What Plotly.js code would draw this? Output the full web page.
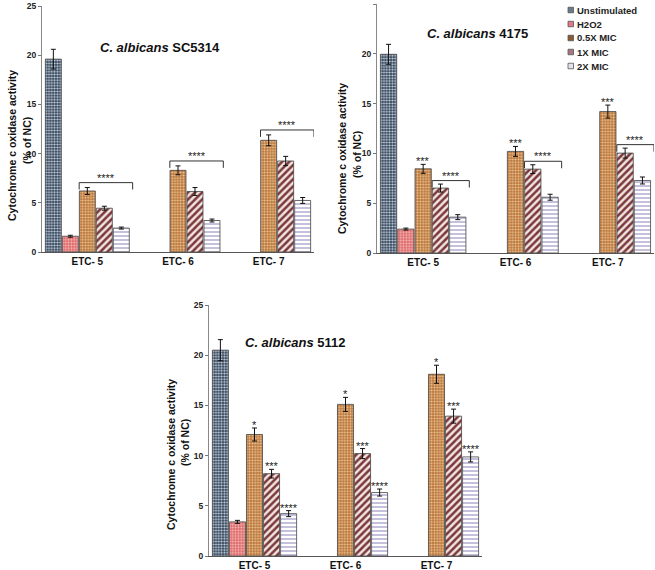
<!DOCTYPE html>
<html><head><meta charset="utf-8">
<script src="https://cdn.plot.ly/plotly-3.0.1.min.js"></script>
<style>html,body{margin:0;padding:0;background:#fff}#chart{width:655px;height:570px}</style>
</head><body><div id="chart"></div>
<script>
// ---------- data ----------
const categories = ['ETC- 5', 'ETC- 6', 'ETC- 7'];
const seriesNames = ['Unstimulated', 'H2O2', '0.5X MIC', '1X MIC', '2X MIC'];
const strainTitles = ['<i>C. albicans</i> SC5314', '<i>C. albicans</i> 4175', '<i>C. albicans</i> 5112'];
const yTitleLine1 = 'Cytochrome c oxidase activity';
const yTitleLine2 = '(% of NC)';
const yTickVals = [0, 5, 10, 15, 20, 25];

// C. albicans SC5314
const sc5314Unstim = [19.6, null, null];
const sc5314UnstimErr = [1.0, null, null];
const sc5314H2O2 = [1.6, null, null];
const sc5314H2O2Err = [0.1, null, null];
const sc5314Half = [6.2, 8.3, 11.35];
const sc5314HalfErr = [0.35, 0.45, 0.55];
const sc5314One = [4.45, 6.15, 9.25];
const sc5314OneErr = [0.2, 0.4, 0.47];
const sc5314Two = [2.43, 3.2, 5.24];
const sc5314TwoErr = [0.1, 0.15, 0.3];

// C. albicans 4175
const c4175Unstim = [19.95, null, null];
const c4175UnstimErr = [1.0, null, null];
const c4175H2O2 = [2.4, null, null];
const c4175H2O2Err = [0.1, null, null];
const c4175Half = [8.45, 10.2, 14.2];
const c4175HalfErr = [0.45, 0.5, 0.65];
const c4175One = [6.52, 8.42, 10.03];
const c4175OneErr = [0.4, 0.44, 0.5];
const c4175Two = [3.6, 5.6, 7.28];
const c4175TwoErr = [0.25, 0.3, 0.35];

// C. albicans 5112
const c5112Unstim = [20.5, null, null];
const c5112UnstimErr = [1.05, null, null];
const c5112H2O2 = [3.4, null, null];
const c5112H2O2Err = [0.15, null, null];
const c5112Half = [12.1, 15.1, 18.1];
const c5112HalfErr = [0.65, 0.7, 0.9];
const c5112One = [8.2, 10.2, 13.93];
const c5112OneErr = [0.43, 0.5, 0.7];
const c5112Two = [4.22, 6.32, 9.87];
const c5112TwoErr = [0.3, 0.35, 0.5];

// significance marks
const c4175HalfSig = ['***', '***', '***'];
const c5112HalfSig = ['*', '*', '*'];
const c5112OneSig = ['***', '***', '***'];
const c5112TwoSig = ['****', '****', '****'];
const sc5314BracketSig = ['****', '****', '****'];   // spans 0.5X..2X MIC
const c4175BracketSig = ['****', '****', '****'];    // spans 1X..2X MIC

const panels = [
  {vals: [sc5314Unstim, sc5314H2O2, sc5314Half, sc5314One, sc5314Two],
   errs: [sc5314UnstimErr, sc5314H2O2Err, sc5314HalfErr, sc5314OneErr, sc5314TwoErr]},
  {vals: [c4175Unstim, c4175H2O2, c4175Half, c4175One, c4175Two],
   errs: [c4175UnstimErr, c4175H2O2Err, c4175HalfErr, c4175OneErr, c4175TwoErr]},
  {vals: [c5112Unstim, c5112H2O2, c5112Half, c5112One, c5112Two],
   errs: [c5112UnstimErr, c5112H2O2Err, c5112HalfErr, c5112OneErr, c5112TwoErr]}
];

// ---------- styles / layout ----------
const W = 655, H = 570;
const px = p => p / W;
const py = p => 1 - p / H;
const boxes = [ // [left, right, bottom, top] in pixels
  [42, 314, 252, 6],
  [377, 654, 253, 4],
  [209, 482, 556, 305]
];
const seriesStyles = [
  {bg: '#34445a', fg: '#d3dfea', shape: '.', size: 2.8, solidity: 0.42, legend: '#6b7a8c'},
  {bg: '#e06a6a', fg: '#f6c4c4', shape: '.', size: 2.8, solidity: 0.35, legend: '#e07a86'},
  {bg: '#b8743a', fg: '#f2cc9c', shape: '.', size: 2.8, solidity: 0.4, legend: '#8b5a2e'},
  {bg: '#f3e4e4', fg: '#7b3838', shape: '/', size: 5, solidity: 0.5, legend: '#a87882'},
  {bg: '#ffffff', fg: '#8c82b8', shape: '-', size: 4, solidity: 0.25, legend: '#e4e2ee'}
];
const bargap = 0.063, bargroupgap = 0.06;
const slot = (1 - bargap) / seriesNames.length;
const barX = (ci, si) => ci + (si - (seriesNames.length - 1) / 2) * slot;

const traces = [];
panels.forEach((p, pi) => {
  const sfx = pi === 0 ? '' : String(pi + 1);
  p.vals.forEach((v, si) => {
    const st = seriesStyles[si];
    traces.push({
      type: 'bar', name: seriesNames[si], legendgroup: seriesNames[si],
      showlegend: false,
      x: categories, y: v,
      xaxis: 'x' + sfx, yaxis: 'y' + sfx,
      marker: {
        color: st.bg,
        line: {color: '#444', width: 0.8},
        pattern: {shape: st.shape, fgcolor: st.fg, bgcolor: st.bg, size: st.size, solidity: st.solidity}
      },
      error_y: {type: 'data', array: p.errs[si], visible: true, color: '#111', thickness: 1, width: 2.5},
      hoverinfo: 'x+y'
    });
  });
});

const layout = {
  width: W, height: H,
  margin: {l: 0, r: 0, t: 0, b: 0},
  paper_bgcolor: '#fff', plot_bgcolor: '#fff',
  barmode: 'group', bargap: bargap, bargroupgap: bargroupgap,
  font: {family: 'Liberation Sans, Arial, sans-serif', color: '#111'},
  showlegend: false,
  annotations: [], shapes: []
};

boxes.forEach((b, i) => {
  const sfx = i === 0 ? '' : String(i + 1);
  layout['xaxis' + sfx] = {
    domain: [px(b[0]), px(b[1])], anchor: 'y' + sfx,
    type: 'category', categoryorder: 'array', categoryarray: categories,
    range: [-0.5, 2.5], showline: true, linecolor: '#555', linewidth: 1,
    ticks: '', showgrid: false, zeroline: false,
    tickfont: {size: 10, weight: 'bold', color: '#111'}, fixedrange: true
  };
  layout['yaxis' + sfx] = {
    domain: [py(b[2]), py(b[3])], anchor: 'x' + sfx,
    range: [0, 25], tickvals: yTickVals, ticks: 'outside', ticklen: 3,
    tickcolor: '#777', showline: true, linecolor: '#888', linewidth: 1,
    showgrid: false, zeroline: false,
    tickfont: {size: 8.5, weight: 'bold', color: '#222'}, fixedrange: true
  };
});

// legend (drawn as key squares + labels in the top-right panel)
seriesNames.forEach((n, si) => {
  const cy = 10 + si * 14;
  layout.shapes.push({
    xref: 'paper', yref: 'paper', type: 'rect',
    x0: px(568), x1: px(573.5), y0: py(cy + 2.75), y1: py(cy - 2.75),
    fillcolor: seriesStyles[si].legend, line: {color: '#555', width: 0.8}
  });
  layout.annotations.push({
    xref: 'paper', yref: 'paper', x: px(575), y: py(cy),
    xanchor: 'left', yanchor: 'middle', showarrow: false,
    text: '<b>' + n + '</b>', font: {size: 9.5, color: '#222'}
  });
});

// strain titles
const titlePos = [[160, 47], [477, 34], [295, 342]];
titlePos.forEach((t, i) => {
  layout.annotations.push({
    xref: 'paper', yref: 'paper', x: px(t[0]), y: py(t[1]),
    xanchor: 'center', yanchor: 'middle', showarrow: false,
    text: '<b>' + strainTitles[i] + '</b>', font: {size: 13, color: '#111'}
  });
});

// y axis titles (two lines each)
const yTitlePos = [[12, 27, 146, 141], [342, 357, 159, 155], [171, 185, 455, 443]];
yTitlePos.forEach(t => {
  layout.annotations.push({
    xref: 'paper', yref: 'paper', x: px(t[0]), y: py(t[2]), textangle: -90,
    xanchor: 'center', yanchor: 'middle', showarrow: false,
    text: '<b>' + yTitleLine1 + '</b>', font: {size: 10.5, color: '#111'}
  });
  layout.annotations.push({
    xref: 'paper', yref: 'paper', x: px(t[1]), y: py(t[3]), textangle: -90,
    xanchor: 'center', yanchor: 'middle', showarrow: false,
    text: '<b>' + yTitleLine2 + '</b>', font: {size: 10.5, color: '#111'}
  });
});

// stars above individual bars
function addBarStars(pi, si, marks) {
  const sfx = pi === 0 ? '' : String(pi + 1);
  const v = panels[pi].vals[si], e = panels[pi].errs[si];
  marks.forEach((m, ci) => {
    if (v[ci] == null) return;
    layout.annotations.push({
      xref: 'x' + sfx, yref: 'y' + sfx, x: barX(ci, si), y: v[ci] + e[ci],
      xanchor: 'center', yanchor: 'bottom', yshift: -5, showarrow: false,
      text: m, font: {size: 11, color: '#222'}
    });
  });
}
addBarStars(1, 2, c4175HalfSig);
addBarStars(2, 2, c5112HalfSig);
addBarStars(2, 3, c5112OneSig);
addBarStars(2, 4, c5112TwoSig);

// brackets spanning several bars
function addBrackets(pi, sFrom, sTo, marks, gapAbove) {
  const sfx = pi === 0 ? '' : String(pi + 1);
  marks.forEach((m, ci) => {
    let top = 0;
    for (let s = sFrom; s <= sTo; s++) {
      top = Math.max(top, panels[pi].vals[s][ci] + panels[pi].errs[s][ci]);
    }
    const yb = top + gapAbove, drop = 0.7;
    const x0 = barX(ci, sFrom) - 0.09, x1 = barX(ci, sTo) + 0.125;
    const ln = {color: '#333', width: 1};
    const ax = {xref: 'x' + sfx, yref: 'y' + sfx, type: 'line', line: ln};
    layout.shapes.push(Object.assign({x0: x0, x1: x1, y0: yb, y1: yb}, ax));
    layout.shapes.push(Object.assign({x0: x0, x1: x0, y0: yb, y1: yb - drop}, ax));
    layout.shapes.push(Object.assign({x0: x1, x1: x1, y0: yb, y1: yb - drop}, ax));
    layout.annotations.push({
      xref: 'x' + sfx, yref: 'y' + sfx, x: (x0 + x1) / 2, y: yb,
      xanchor: 'center', yanchor: 'bottom', yshift: -3, showarrow: false,
      text: m, font: {size: 11, color: '#222'}
    });
  });
}
addBrackets(0, 2, 4, sc5314BracketSig, 0.5);
addBrackets(1, 3, 4, c4175BracketSig, 0.35);

Plotly.newPlot('chart', traces, layout, {displayModeBar: false, staticPlot: true});
</script>
</body></html>
